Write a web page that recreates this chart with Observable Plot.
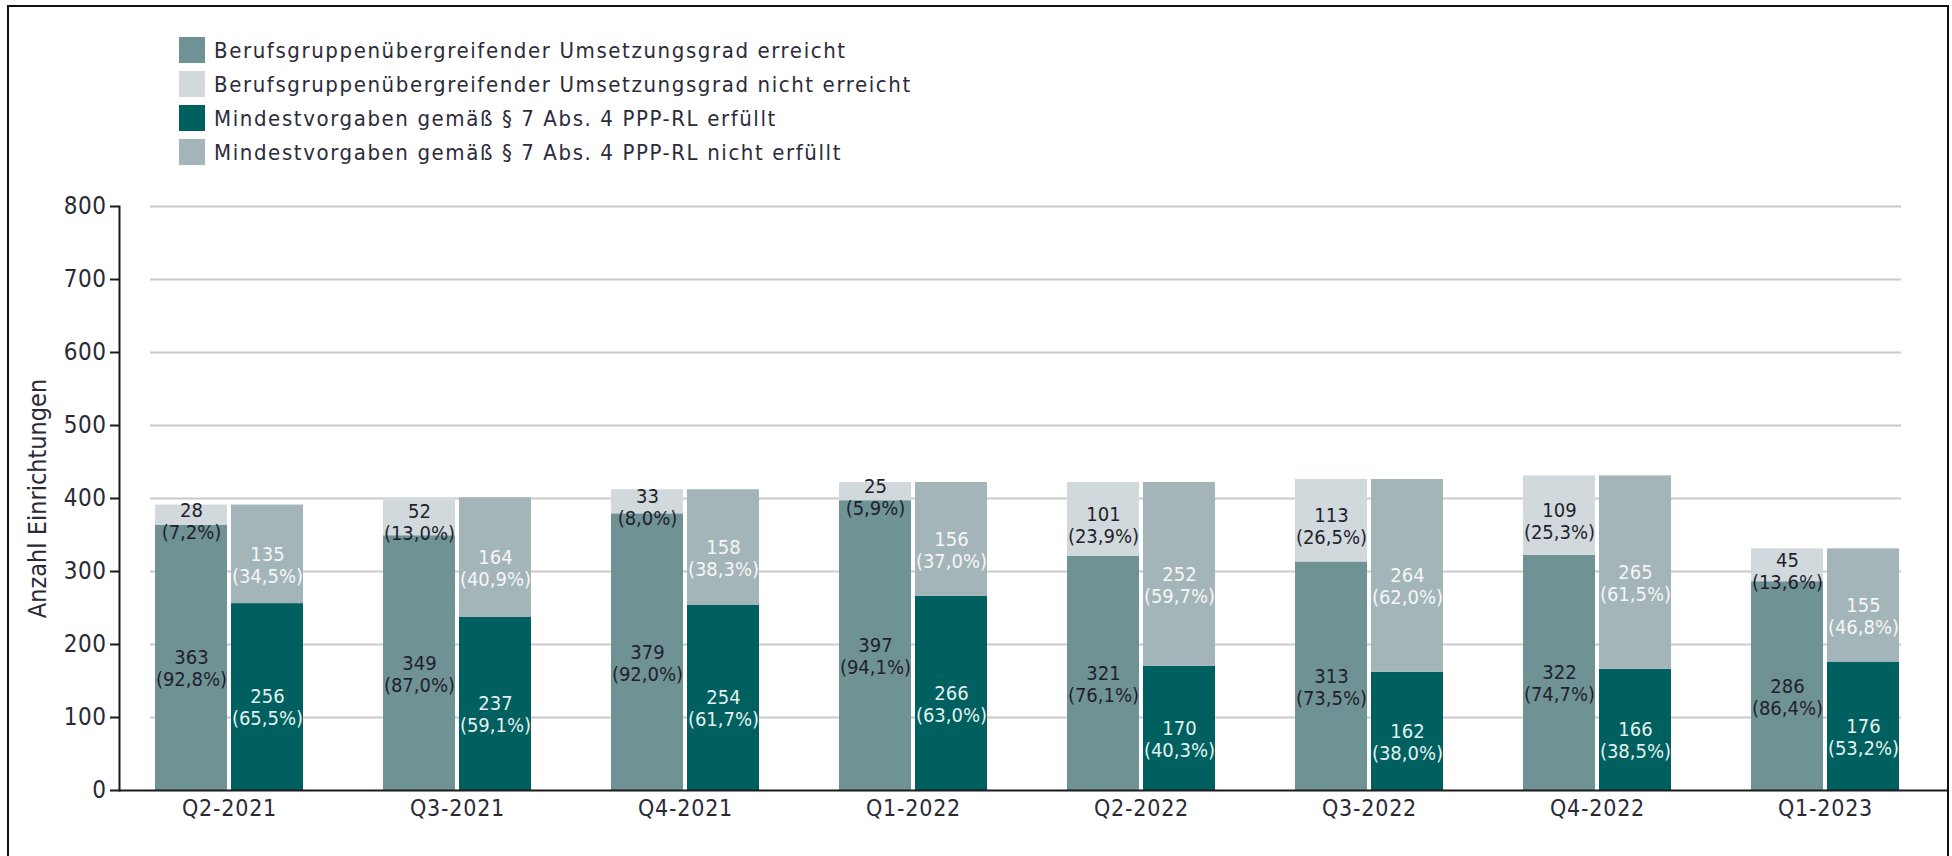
<!DOCTYPE html>
<html>
<head>
<meta charset="utf-8">
<script src="https://cdn.jsdelivr.net/npm/d3@7"></script>
<script src="https://cdn.jsdelivr.net/npm/@observablehq/plot@0.6"></script>
<style>
  html, body { margin: 0; padding: 0; background: #fff; }
  body { width: 1952px; height: 856px; overflow: hidden; position: relative;
         font-family: "DejaVu Sans Condensed", "DejaVu Sans", sans-serif; font-stretch: condensed; }
  #frame { position: absolute; left: 7px; top: 5px; width: 1938px; height: 900px;
           border: 2px solid #111; border-bottom: none; pointer-events: none; }
  #legend { position: absolute; left: 179px; top: 37px; }
  .row { display: flex; align-items: center; height: 26px; margin-bottom: 8px; }
  .sw { width: 26px; height: 26px; margin-right: 9px; flex: none; }
  .lab { font-size: 22px; color: #2b2b3a; white-space: nowrap; letter-spacing: 1.6px; }
  #chart { position: absolute; left: 0; top: 180px; }
  g[aria-label="ylabel"] text { letter-spacing: 2px; }
  g[aria-label="x-axis tick label"] text { letter-spacing: 0.8px; }
  g[aria-label="y-axis tick label"] text { letter-spacing: 0.5px; }
</style>
</head>
<body>
<div id="legend"></div>
<div id="chart"></div>
<div id="frame"></div>
<script>
const quarters = ["Q2-2021", "Q3-2021", "Q4-2021", "Q1-2022", "Q2-2022", "Q3-2022", "Q4-2022", "Q1-2023"];
const seriesNames = [
  "Berufsgruppenübergreifender Umsetzungsgrad erreicht",
  "Berufsgruppenübergreifender Umsetzungsgrad nicht erreicht",
  "Mindestvorgaben gemäß § 7 Abs. 4 PPP-RL erfüllt",
  "Mindestvorgaben gemäß § 7 Abs. 4 PPP-RL nicht erfüllt"
];
const seriesColors = ["#6f9294", "#d1d9dc", "#005f5f", "#a3b5b8"];
const labelColors = ["#1f1f2e", "#1f1f2e", "#e2f1ef", "#f6f6f6"];

const erreicht        = [363, 349, 379, 397, 321, 313, 322, 286];
const erreichtPct     = ["92,8", "87,0", "92,0", "94,1", "76,1", "73,5", "74,7", "86,4"];
const nichtErreicht   = [28, 52, 33, 25, 101, 113, 109, 45];
const nichtErreichtPct= ["7,2", "13,0", "8,0", "5,9", "23,9", "26,5", "25,3", "13,6"];
const erfuellt        = [256, 237, 254, 266, 170, 162, 166, 176];
const erfuelltPct     = ["65,5", "59,1", "61,7", "63,0", "40,3", "38,0", "38,5", "53,2"];
const nichtErfuellt   = [135, 164, 158, 156, 252, 264, 265, 155];
const nichtErfuelltPct= ["34,5", "40,9", "38,3", "37,0", "59,7", "62,0", "61,5", "46,8"];

const yTicks = [0, 100, 200, 300, 400, 500, 600, 700, 800];

// Legend
const legend = document.getElementById("legend");
seriesNames.forEach((name, i) => {
  const row = document.createElement("div");
  row.className = "row";
  row.innerHTML = `<div class="sw" style="background:${seriesColors[i]}"></div><div class="lab"></div>`;
  row.querySelector(".lab").textContent = name;
  legend.appendChild(row);
});

// Table
const rows = [];
quarters.forEach((q, i) => {
  rows.push({quarter: q, group: "U", s: 0, series: seriesNames[0], value: erreicht[i], pct: erreichtPct[i], mid: erreicht[i] / 2});
  rows.push({quarter: q, group: "U", s: 1, series: seriesNames[1], value: nichtErreicht[i], pct: nichtErreichtPct[i], mid: erreicht[i] + nichtErreicht[i] / 2});
  rows.push({quarter: q, group: "M", s: 2, series: seriesNames[2], value: erfuellt[i], pct: erfuelltPct[i], mid: erfuellt[i] / 2});
  rows.push({quarter: q, group: "M", s: 3, series: seriesNames[3], value: nichtErfuellt[i], pct: nichtErfuelltPct[i], mid: erfuellt[i] + nichtErfuellt[i] / 2});
});
const rowsU = rows.filter(d => d.group === "U");
const rowsM = rows.filter(d => d.group === "M");

const labelMarks = [0, 1, 2, 3].flatMap(s => {
  const data = rows.filter(d => d.s === s);
  const dx = s < 2 ? -38 : 38;
  const dy0 = s === 1 ? -5 : 0;
  return [
    Plot.text(data, {x: "quarter", y: "mid", text: d => String(d.value), dx, dy: dy0, fill: labelColors[s], fontSize: 20}),
    Plot.text(data, {x: "quarter", y: "mid", text: d => `(${d.pct}%)`, dx, dy: dy0 + 22, fill: labelColors[s], fontSize: 20})
  ];
});

const chart = Plot.plot({
  width: 1952,
  height: 676,
  marginTop: 26,
  marginBottom: 66,
  marginLeft: 119,
  marginRight: 4,
  style: {fontFamily: '"DejaVu Sans Condensed", "DejaVu Sans", sans-serif', fontStretch: "condensed", fontSize: "20px", background: "transparent", color: "#2a2a35"},
  x: {type: "band", domain: quarters, range: [152, 1901], paddingInner: 0.353, paddingOuter: 0, axis: null},
  y: {domain: [0, 800], axis: null},
  color: {domain: seriesNames, range: seriesColors},
  marks: [
    Plot.ruleY(yTicks.slice(1), {stroke: "#cacaca", strokeWidth: 2, insetLeft: 31, insetRight: 47}),
    Plot.barY(rowsU, {x: "quarter", y: "value", fill: "series", insetRight: 76}),
    Plot.barY(rowsM, {x: "quarter", y: "value", fill: "series", insetLeft: 76}),
    ...labelMarks,
    Plot.ruleY([0], {stroke: "#1a1a1a", strokeWidth: 2}),
    Plot.axisY({ticks: yTicks, tickSize: 9, tickPadding: 4, fontSize: 24, stroke: "#1a1a1a", strokeWidth: 2, fill: "#2a2a35", label: null, tickFormat: d => String(d)}),
    Plot.frame({anchor: "left", stroke: "#1a1a1a", strokeWidth: 2}),
    Plot.axisX({tickSize: 0, tickPadding: 9, fontSize: 23, fill: "#2a2a35", label: null}),
    Plot.text(["Anzahl Einrichtungen"], {frameAnchor: "left", textAnchor: "middle", text: d => d, rotate: -90, dx: -82, fontSize: 25, fill: "#2a2a35", ariaLabel: "ylabel"})
  ]
});
document.getElementById("chart").appendChild(chart);
</script>
</body>
</html>
